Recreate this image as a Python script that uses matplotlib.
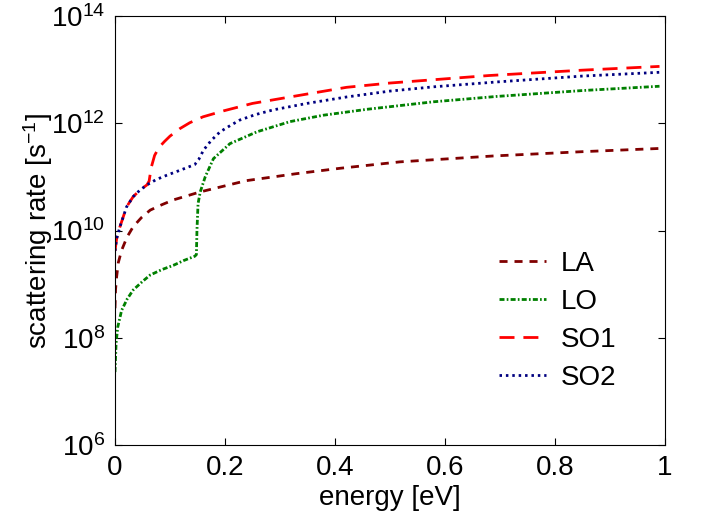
import numpy as np
import matplotlib
matplotlib.use("Agg")
import matplotlib.pyplot as plt

plt.rcParams['font.family'] = ['Liberation Sans', 'DejaVu Sans']
plt.rcParams['mathtext.fontset'] = 'custom'
plt.rcParams['mathtext.rm'] = 'Liberation Sans'
plt.rcParams['mathtext.it'] = 'Liberation Sans:italic'
plt.rcParams['mathtext.default'] = 'regular'

# energy [eV] and log10(scattering rate [1/s])
la_x = [0.0, 0.001, 0.003, 0.006, 0.012, 0.022, 0.033, 0.048, 0.064, 0.085, 0.106,
        0.155, 0.239, 0.33, 0.409, 0.518, 0.688, 0.85, 0.99]
la_log = [8.55, 8.9, 9.14, 9.4, 9.63, 9.88, 10.07, 10.24, 10.38, 10.48, 10.57,
          10.72, 10.93, 11.06, 11.16, 11.28, 11.39, 11.47, 11.53]

lo_x = [0.0, 0.002, 0.005, 0.012, 0.022, 0.033, 0.05, 0.064, 0.085, 0.106, 0.125,
        0.145, 0.148, 0.149, 0.151, 0.155, 0.164, 0.179, 0.209, 0.258, 0.318,
        0.379, 0.458, 0.579, 0.694, 0.85, 0.99]
lo_log = [7.36, 7.9, 8.2, 8.51, 8.72, 8.89, 9.05, 9.17, 9.27, 9.35, 9.44,
          9.52, 9.55, 10.0, 10.5, 10.72, 11.0, 11.34, 11.62, 11.84, 12.03,
          12.15, 12.26, 12.40, 12.50, 12.61, 12.69]

so1_x = [0.0, 0.003, 0.009, 0.021, 0.033, 0.045, 0.058, 0.062, 0.066, 0.072, 0.08,
         0.09, 0.10, 0.118, 0.136, 0.16, 0.197, 0.25, 0.318, 0.421, 0.5, 0.68, 0.85, 0.99]
so1_log = [9.62, 9.85, 10.07, 10.44, 10.63, 10.75, 10.85, 10.92, 11.18, 11.40, 11.55,
           11.66, 11.76, 11.90, 12.01, 12.12, 12.23, 12.37, 12.49, 12.67, 12.75, 12.89, 12.99, 13.06]

so2_x = [0.0, 0.003, 0.009, 0.021, 0.033, 0.045, 0.058, 0.075, 0.094, 0.12, 0.145,
         0.152, 0.161, 0.175, 0.191, 0.21, 0.227, 0.255, 0.288, 0.349, 0.421, 0.5,
         0.58, 0.694, 0.85, 0.99]
so2_log = [9.62, 9.85, 10.07, 10.44, 10.63, 10.75, 10.85, 10.95, 11.03, 11.13, 11.23,
           11.32, 11.50, 11.68, 11.84, 11.96, 12.06, 12.16, 12.25, 12.37, 12.49, 12.60,
           12.68, 12.77, 12.88, 12.95]

labels = ['LA', 'LO', 'SO1', 'SO2']
yticks_exp = [6, 8, 10, 12, 14]
xticks = [0, 0.2, 0.4, 0.6, 0.8, 1]
xtick_labels = ['0', '0.2', '0.4', '0.6', '0.8', '1']

FS = 20
fig = plt.figure(figsize=(7.05, 5.21), dpi=100)
ax = fig.add_axes([115/705, 1 - 445/521, 550/705, 429/521])

lw = 2.0
ax.plot(la_x, 10.0**np.array(la_log), color='#800000', lw=lw, dashes=(2.9, 2.5), label=labels[0])
ax.plot(lo_x, 10.0**np.array(lo_log), color='#008000', lw=lw, dashes=(1.8, 0.8, 0.6, 0.8), label=labels[1])
ax.plot(so1_x, 10.0**np.array(so1_log), color='#ff0000', lw=lw, dashes=(5.4, 3.2), label=labels[2])
ax.plot(so2_x, 10.0**np.array(so2_log), color='#000080', lw=lw, dashes=(0.9, 1.4), label=labels[3])

ax.set_yscale('log')
ax.set_xlim(0, 1)
ax.set_ylim(1e6, 1e14)
ax.set_yticks([10.0**e for e in yticks_exp])
ax.set_yticklabels([r'$10^{%d}$' % e for e in yticks_exp])
ax.yaxis.set_minor_locator(matplotlib.ticker.NullLocator())
ax.set_xticks(xticks)
ax.set_xticklabels(xtick_labels)

ax.tick_params(direction='in', top=True, right=True, length=5, width=0.8,
               labelsize=FS, pad=7, colors='black')
for s in ax.spines.values():
    s.set_linewidth(0.8)

ax.set_xlabel('energy [eV]', fontsize=FS, labelpad=3)
ax.set_ylabel(r'scattering rate [s$^{-1}$]', fontsize=FS, labelpad=-3)

leg = ax.legend(loc='upper left', bbox_to_anchor=(0.698, 0.452), frameon=False,
                fontsize=FS, handlelength=1.69, handletextpad=0.54, labelspacing=0.43,
                borderaxespad=0, borderpad=0)

fig.savefig('out.png', dpi=100)
